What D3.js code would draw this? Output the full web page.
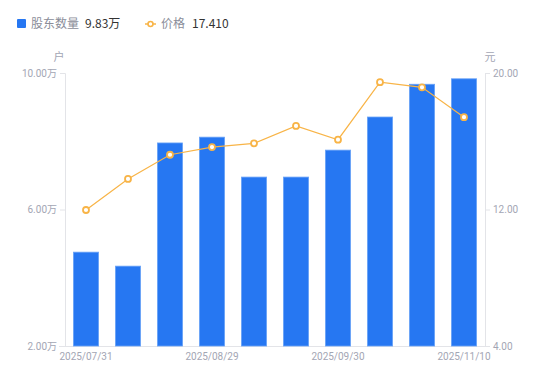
<!DOCTYPE html>
<html><head><meta charset="utf-8">
<script src="https://cdn.jsdelivr.net/npm/d3@7/dist/d3.min.js"></script>
<style>body{margin:0;background:#fff}svg{display:block;font-family:"Noto Sans CJK SC","Noto Sans",sans-serif}</style>
</head><body>
<script>
const dates = ["2025/07/31","2025/08/12","2025/08/20","2025/08/29","2025/09/10","2025/09/19","2025/09/30","2025/10/20","2025/10/31","2025/11/10"];
const holders = [4.75, 4.34, 7.95, 8.12, 6.95, 6.95, 7.74, 8.71, 9.67, 9.83];
const prices = [11.97, 13.79, 15.21, 15.66, 15.88, 16.90, 16.09, 19.46, 19.16, 17.41];
const leftTicks = [2, 6, 10];
const rightTicks = [4, 12, 20];
const shownDates = ["2025/07/31","2025/08/29","2025/09/30","2025/11/10"];

const W = 550, H = 381;
const m = {l:65, r:65, t:73, b:35};
const svg = d3.select("body").append("svg").attr("width", W).attr("height", H);
const x = d3.scaleBand().domain(dates).range([m.l, W - m.r]).paddingInner(0.4).paddingOuter(0.2);
const yL = d3.scaleLinear().domain([2, 10]).range([H - m.b, m.t]);
const yR = d3.scaleLinear().domain([4, 20]).range([H - m.b, m.t]);
const axisCol = "#e3e4e8", textCol = "#a3a6b4";

// axes
const gL = svg.append("g").attr("transform", `translate(${m.l},0)`)
  .call(d3.axisLeft(yL).tickValues(leftTicks).tickSize(5).tickPadding(3).tickFormat(d => d3.format(".2f")(d) + "万"));
const gR = svg.append("g").attr("transform", `translate(${W - m.r},0)`)
  .call(d3.axisRight(yR).tickValues(rightTicks).tickSize(5).tickPadding(3).tickFormat(d3.format(".2f")));
const gB = svg.append("g").attr("transform", `translate(0,${H - m.b})`)
  .call(d3.axisBottom(x).tickValues(shownDates).tickSize(0).tickPadding(7));
[gL, gR, gB].forEach(g => {
  g.selectAll("path").attr("stroke", axisCol);
  g.selectAll("line").attr("stroke", axisCol);
  g.selectAll("text").attr("fill", textCol).attr("font-size", 10).attr("font-family", "Roboto, 'Noto Sans CJK SC', sans-serif");
});
gB.select("path").attr("d", `M${m.l - 6},0.5H${W - m.r + 5}`);

// unit labels
svg.append("text").attr("x", 59).attr("y", 61).attr("text-anchor", "middle").attr("fill", textCol).attr("font-size", 11).text("户");
svg.append("text").attr("x", 490).attr("y", 61).attr("text-anchor", "middle").attr("fill", textCol).attr("font-size", 11).text("元");

// bars
svg.append("g").selectAll("rect").data(dates).join("rect")
  .attr("x", d => x(d)).attr("width", x.bandwidth())
  .attr("y", (d, i) => yL(holders[i])).attr("height", (d, i) => yL(2) - yL(holders[i]))
  .attr("fill", "#2677f2").attr("stroke", "#6aa3f7").attr("stroke-width", 0.8);

// line
const cx = d => x(d) + x.bandwidth() / 2;
const lineCol = "#f8b447";
svg.append("path").datum(dates)
  .attr("d", d3.line().x(cx).y((d, i) => yR(prices[i])))
  .attr("fill", "none").attr("stroke", lineCol).attr("stroke-width", 1.2);
svg.append("g").selectAll("circle").data(dates).join("circle")
  .attr("cx", cx).attr("cy", (d, i) => yR(prices[i])).attr("r", 3)
  .attr("fill", "#fff").attr("stroke", lineCol).attr("stroke-width", 1.8);

// legend
const lg = svg.append("g").attr("font-size", 12);
lg.append("rect").attr("x", 17).attr("y", 19).attr("width", 9).attr("height", 9).attr("rx", 1).attr("fill", "#2677f2");
lg.append("text").attr("x", 31).attr("y", 28).attr("fill", "#8a8d99").text("股东数量");
lg.append("text").attr("x", 85).attr("y", 28).attr("fill", "#333").text(d3.format(".2f")(holders[holders.length - 1]) + "万");
lg.append("line").attr("x1", 145).attr("x2", 156).attr("y1", 24).attr("y2", 24).attr("stroke", lineCol).attr("stroke-width", 1.5);
lg.append("circle").attr("cx", 150.5).attr("cy", 24).attr("r", 2.5).attr("fill", "#fff").attr("stroke", lineCol).attr("stroke-width", 1.6);
lg.append("text").attr("x", 161).attr("y", 28).attr("fill", "#8a8d99").text("价格");
lg.append("text").attr("x", 192).attr("y", 28).attr("fill", "#333").text(d3.format(".3f")(prices[prices.length - 1]));
</script>
</body></html>
